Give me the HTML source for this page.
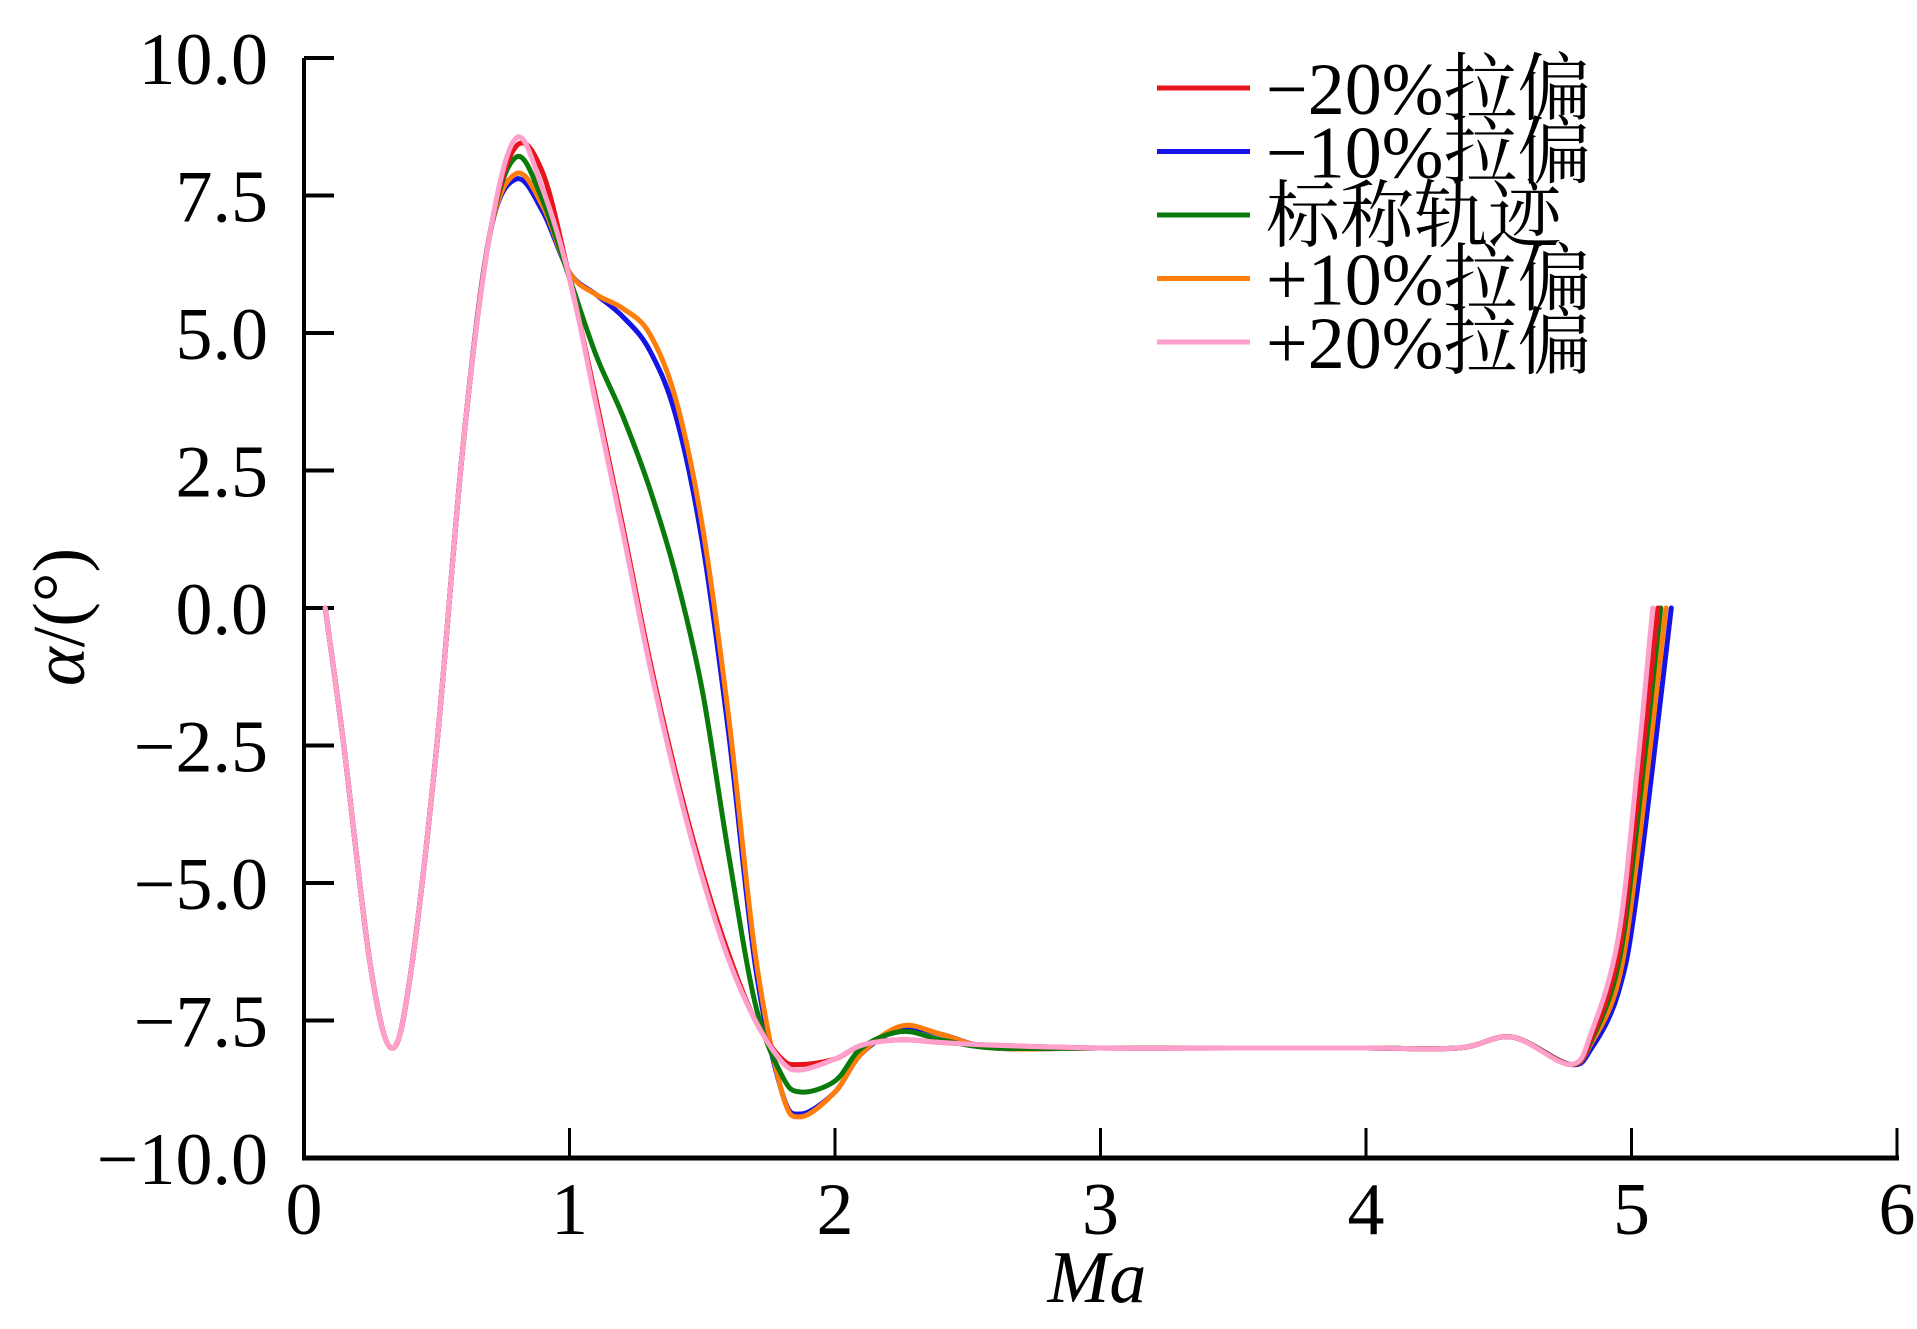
<!DOCTYPE html>
<html><head><meta charset="utf-8"><style>
html,body{margin:0;padding:0;background:#fff;}
svg{display:block;}
text{font-family:"Liberation Serif","Noto Serif CJK SC",serif;fill:#000;}
</style></head><body>
<svg id="chart" width="1917" height="1329" viewBox="0 0 1917 1329" xmlns="http://www.w3.org/2000/svg" font-family="Liberation Serif, Noto Serif CJK SC, serif">
<g id="axes"></g>
<g id="series"></g>
<g id="legend"></g>
<text x="1097" y="1302" font-size="74" font-style="italic" text-anchor="middle" font-family="Liberation Serif, serif">Ma</text>
<text transform="translate(84,617) rotate(-90)" font-size="74" text-anchor="middle" font-family="Liberation Serif, serif"><tspan font-style="italic">α</tspan>/(°)</text>
</svg>
<script>
const xTicks=[0,1,2,3,4,5,6];
const yTicks=[10,7.5,5,2.5,0,-2.5,-5,-7.5,-10];
const yTickLabels=["10.0","7.5","5.0","2.5","0.0","\u22122.5","\u22125.0","\u22127.5","\u221210.0"];
const ma=[0.08,0.15,0.25,0.33,0.4,0.5,0.6,0.7,0.8,0.9,1.0,1.1,1.2,1.3,1.4,1.5,1.6,1.7,1.8,1.87,2.0,2.1,2.25,2.4,2.6,3,3.5,4,4.35,4.55,4.77,4.85,4.95,5.02];
const endMa=[5.10,5.15,5.11,5.13,5.08];
const seriesNames=["\u221220%拉偏","\u221210%拉偏","标称轨迹","+10%拉偏","+20%拉偏"];
const red=[0,-2.5,-6.5,-8.0,-6.7,-2.5,3.0,6.8,8.4,7.9,6.0,3.8,1.5,-0.9,-3.0,-4.8,-6.3,-7.5,-8.2,-8.3,-8.2,-7.95,-7.85,-7.9,-7.95,-8,-8,-8,-8,-7.8,-8.3,-7.8,-6.3,-3.6,0];
const blue=[0,-2.5,-6.5,-8.0,-6.7,-2.5,3.0,6.8,7.8,7.2,6.1,5.7,5.3,4.7,3.5,1.2,-2.3,-6.5,-8.8,-9.2,-8.8,-8.1,-7.65,-7.75,-8.0,-8,-8,-8,-8,-7.8,-8.3,-8.0,-7.0,-5.2,0];
const green=[0,-2.5,-6.5,-8.0,-6.7,-2.5,3.0,6.8,8.2,7.4,6.0,4.6,3.5,2.2,0.6,-1.5,-4.5,-7.2,-8.5,-8.8,-8.6,-8.0,-7.7,-7.85,-8.0,-8,-8,-8,-8,-7.8,-8.3,-7.85,-6.5,-4.0,0];
const orange=[0,-2.5,-6.5,-8.0,-6.7,-2.5,3.0,6.8,7.9,7.3,6.1,5.7,5.45,5.0,3.8,1.5,-2.0,-6.3,-8.8,-9.25,-8.8,-8.1,-7.6,-7.75,-8.0,-8,-8,-8,-8,-7.8,-8.3,-7.9,-6.8,-4.6,0];
const pink=[0,-2.5,-6.5,-8.0,-6.7,-2.5,3.0,6.8,8.55,7.6,6.0,3.7,1.4,-1.0,-3.1,-4.9,-6.4,-7.5,-8.25,-8.4,-8.2,-7.95,-7.85,-7.9,-7.95,-8,-8,-8,-8,-7.8,-8.3,-7.7,-6.0,-3.0,0];
const colors=["#e8141c","#1414e6","#0a7a0a","#ff7d0a","#ff9fcc"];
const seriesData=[red,blue,green,orange,pink];
const NS="http://www.w3.org/2000/svg";
const X0=304,X1=1897,Y0=1158,Y1=58;
function sx(v){return X0+(v-0)/(6-0)*(X1-X0);}
function sy(v){return Y0-(v+10)/20*(Y0-Y1);}
function mk(tag,attrs,parent){const e=document.createElementNS(NS,tag);for(const k in attrs)e.setAttribute(k,attrs[k]);parent.appendChild(e);return e;}
const FF="Liberation Serif, serif";
const axes=document.getElementById('axes');
let e=mk('line',{x1:X0,y1:Y1,x2:X0,y2:Y0+2,stroke:'#000','stroke-width':4},axes);


e=mk('line',{x1:X0-2,y1:Y0,x2:X1+2,y2:Y0,stroke:'#000','stroke-width':5},axes);


xTicks.forEach(t=>{
 const l=mk('line',{x1:sx(t),y1:Y0,x2:sx(t),y2:Y0-30,stroke:'#000','stroke-width':3},axes);
 
 
 const tx=mk('text',{x:sx(t),y:1234,'font-size':74,'text-anchor':'middle','font-family':FF},axes);
 
 
 tx.textContent=String(t);
});
yTicks.forEach((t,i)=>{
 const l=mk('line',{x1:X0,y1:sy(t),x2:X0+30,y2:sy(t),stroke:'#000','stroke-width':4},axes);
 
 
 const tx=mk('text',{x:268,y:sy(t)+26,'font-size':74,'text-anchor':'end','font-family':FF},axes);
 
 
 tx.textContent=yTickLabels[i];
});
function pathFor(xs,ys){
 const p=xs.map((x,i)=>[sx(x),sy(ys[i])]);
 let d='M'+p[0][0]+','+p[0][1];
 for(let i=0;i<p.length-1;i++){
  const a=p[Math.max(i-1,0)],b=p[i],c=p[i+1],n=p[Math.min(i+2,p.length-1)];
  const c1=[b[0]+(c[0]-a[0])/6,b[1]+(c[1]-a[1])/6],c2=[c[0]-(n[0]-b[0])/6,c[1]-(n[1]-b[1])/6];
  d+=' C'+c1[0].toFixed(1)+','+c1[1].toFixed(1)+' '+c2[0].toFixed(1)+','+c2[1].toFixed(1)+' '+c[0].toFixed(1)+','+c[1].toFixed(1);
 }
 return d;
}
const sg=document.getElementById('series');
const order=[1,3,2,0,4];
const snames=['line-minus20','line-minus10','line-nominal','line-plus10','line-plus20'];
order.forEach(i=>{
 const xs=ma.concat([endMa[i]]);
 const p=mk('path',{d:pathFor(xs,seriesData[i]),fill:'none',stroke:colors[i],'stroke-width':5,'stroke-linejoin':'round','stroke-linecap':'round'},sg);
 
 
});
const lg=document.getElementById('legend');
seriesNames.forEach((n,i)=>{
 const y=88+i*63.5;
 const l=mk('line',{x1:1157,y1:y,x2:1250,y2:y,stroke:colors[i],'stroke-width':5},lg);
 
 
 const t=mk('text',{x:1266,y:y+26,'font-size':74,'font-family':'Liberation Serif, Noto Serif CJK SC, serif'},lg);
 
 
 t.textContent=n;
});
</script>
</body></html>
